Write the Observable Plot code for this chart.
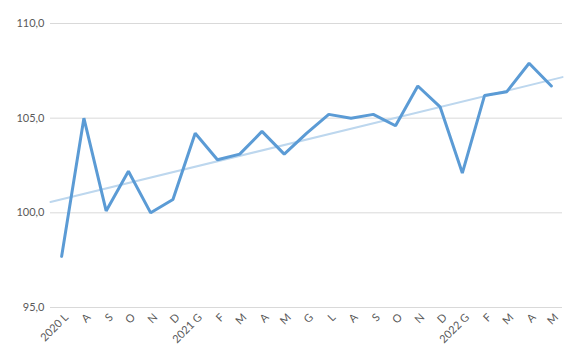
<!DOCTYPE html>
<html><head><meta charset="utf-8">
<script src="https://cdn.jsdelivr.net/npm/d3@7"></script>
<script src="https://cdn.jsdelivr.net/npm/@observablehq/plot@0.6"></script>
<style>
body{margin:0;background:#fff;}
#chart{width:580px;height:359px;}
</style>
</head><body><div id="chart"></div>
<script>
const months = ["2020 L","A","S","O","N","D","2021 G","F","M","A","M","G","L","A","S","O","N","D","2022 G","F","M","A","M"];
const values = [97.7,105.0,100.1,102.2,100.0,100.7,104.2,102.8,103.1,104.3,103.1,104.2,105.2,105.0,105.2,104.6,106.7,105.6,102.1,106.2,106.4,107.9,106.7];
const yTicks = [95,100,105,110];

const data = months.map((m,i)=>({i, m, v: values[i]}));
// least-squares trend across the full plot width
const n = values.length;
const mx = d3.mean(data, d=>d.i), my = d3.mean(values);
const slope = d3.sum(data, d=>(d.i-mx)*(d.v-my)) / d3.sum(data, d=>(d.i-mx)**2);
const xDomain = [-0.5, n - 0.5];
const trend = xDomain.map(x=>({x, y: my + slope*(x-mx)}));
const fmt = v => d3.format(".1f")(v).replace(".", ",");

const chart = Plot.plot({
  width: 580, height: 359,
  marginLeft: 50, marginRight: 18, marginTop: 23, marginBottom: 52,
  style: {fontFamily: "Lato, 'Open Sans', sans-serif", fontSize: "11px", color: "#595959", background: "#fff"},
  x: {type: "linear", domain: xDomain, axis: null},
  y: {domain: [95,110], axis: null},
  marks: [
    Plot.ruleY(yTicks, {stroke: "#d9d9d9", strokeWidth: 1}),
    Plot.axisY({ticks: yTicks, tickFormat: fmt, tickSize: 0, tickPadding: 6, fontSize: 11, fill: "#595959"}),
    Plot.axisX({ticks: d3.range(n), tickFormat: i => months[i], tickSize: 0, tickPadding: 8, dx: 5, tickRotate: -45, fontSize: 11, fill: "#595959"}),
    Plot.line(trend, {x: "x", y: "y", stroke: "#bdd7ee", strokeWidth: 2}),
    Plot.line(data, {x: "i", y: "v", stroke: "#5b9bd5", strokeWidth: 3, strokeLinejoin: "miter"})
  ]
});
document.getElementById("chart").appendChild(chart);
</script></body></html>
